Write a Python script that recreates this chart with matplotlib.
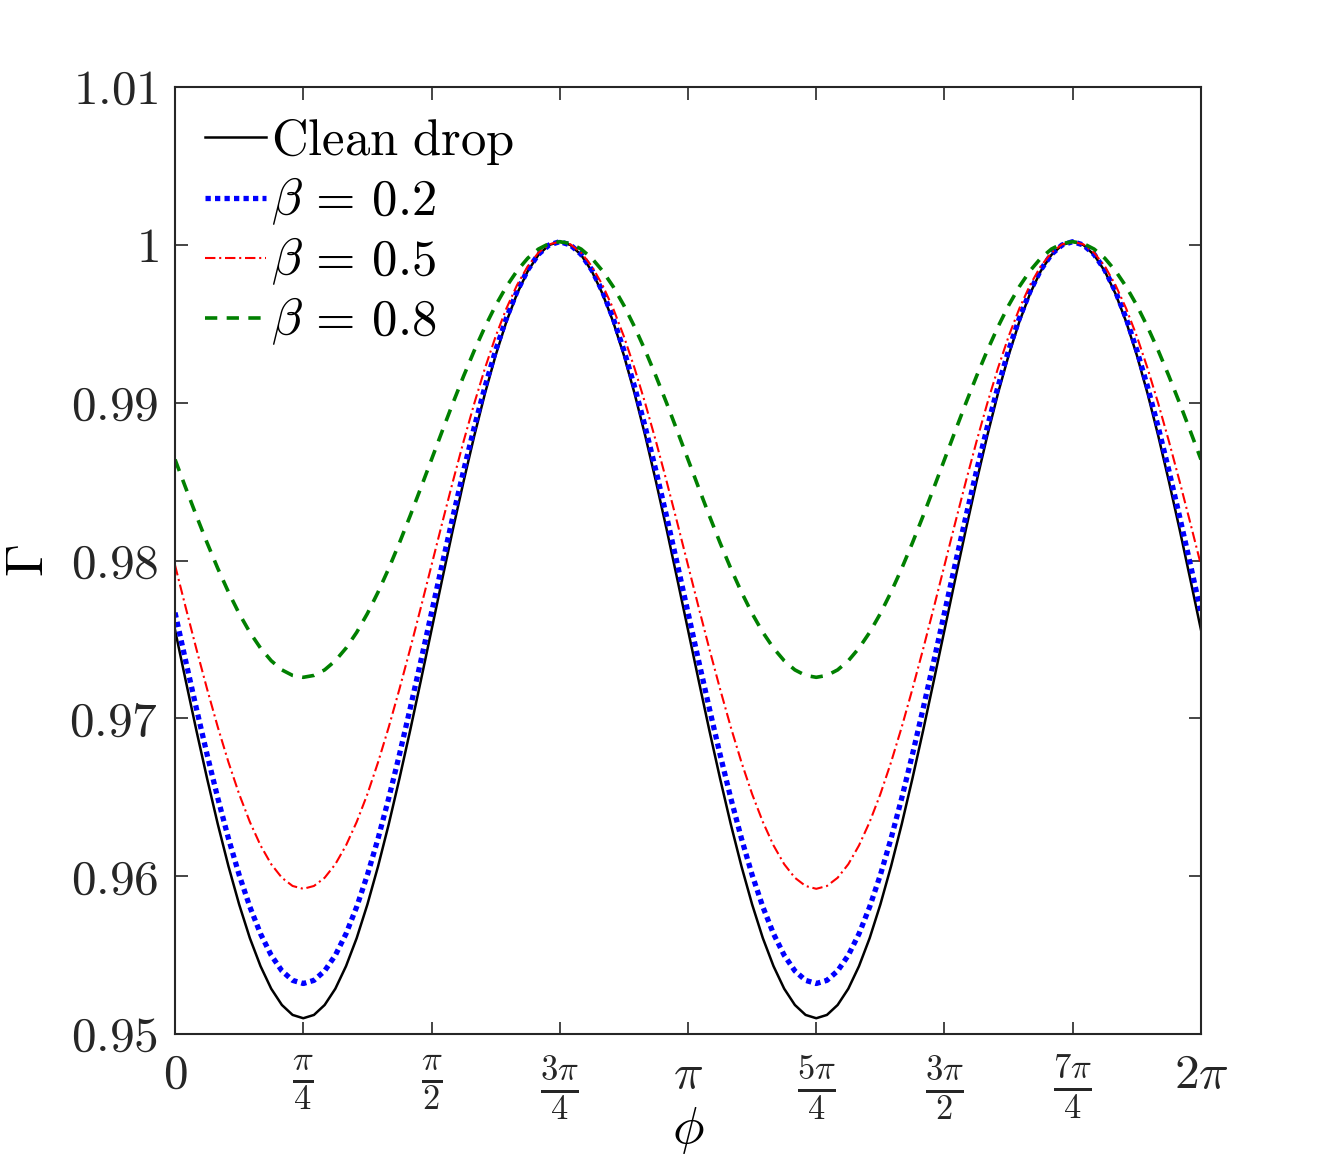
import numpy as np
import matplotlib
matplotlib.use("Agg")
import matplotlib.pyplot as plt

plt.rcParams['mathtext.fontset'] = 'cm'
plt.rcParams['font.family'] = 'serif'
plt.rcParams['font.serif'] = ['cmr10', 'DejaVu Serif']
plt.rcParams['axes.unicode_minus'] = False

# phi sampled every pi/48 from 0 to 2*pi (97 points)
phi = np.linspace(0, 2 * np.pi, 97)

# values
clean = [0.97560, 0.97239, 0.96923, 0.96619, 0.96330, 0.96063, 0.95821, 0.95608, 0.95430,
         0.95287, 0.95184, 0.95121, 0.95100,
         0.95121, 0.95184, 0.95287, 0.95430, 0.95608, 0.95821, 0.96063, 0.96330, 0.96619,
         0.96923, 0.97239, 0.97560,
         0.97881, 0.98197, 0.98501, 0.98790, 0.99058, 0.99300, 0.99512, 0.99690, 0.99833,
         0.99936, 0.99999, 1.00020,
         0.99999, 0.99936, 0.99833, 0.99690, 0.99512, 0.99300, 0.99058, 0.98790, 0.98501,
         0.98197, 0.97881, 0.97560,
         0.97239, 0.96923, 0.96619, 0.96330, 0.96063, 0.95821, 0.95608, 0.95430,
         0.95287, 0.95184, 0.95121, 0.95100,
         0.95121, 0.95184, 0.95287, 0.95430, 0.95608, 0.95821, 0.96063, 0.96330, 0.96619,
         0.96923, 0.97239, 0.97560,
         0.97881, 0.98197, 0.98501, 0.98790, 0.99058, 0.99300, 0.99512, 0.99690, 0.99833,
         0.99936, 0.99999, 1.00020,
         0.99999, 0.99936, 0.99833, 0.99690, 0.99512, 0.99300, 0.99058, 0.98790, 0.98501,
         0.98197, 0.97881, 0.97560]

beta02 = [0.97670, 0.97363, 0.97062, 0.96771, 0.96495, 0.96239, 0.96008, 0.95806, 0.95635,
          0.95499, 0.95400, 0.95340, 0.95320,
          0.95340, 0.95400, 0.95499, 0.95635, 0.95806, 0.96008, 0.96239, 0.96495, 0.96771,
          0.97062, 0.97363, 0.97670,
          0.97977, 0.98278, 0.98569, 0.98845, 0.99101, 0.99332, 0.99534, 0.99705, 0.99841,
          0.99940, 0.99999, 1.00020,
          0.99999, 0.99940, 0.99841, 0.99705, 0.99534, 0.99332, 0.99101, 0.98845, 0.98569,
          0.98278, 0.97977, 0.97670,
          0.97363, 0.97062, 0.96771, 0.96495, 0.96239, 0.96008, 0.95806, 0.95635,
          0.95499, 0.95400, 0.95340, 0.95320,
          0.95340, 0.95400, 0.95499, 0.95635, 0.95806, 0.96008, 0.96239, 0.96495, 0.96771,
          0.97062, 0.97363, 0.97670,
          0.97977, 0.98278, 0.98569, 0.98845, 0.99101, 0.99332, 0.99534, 0.99705, 0.99841,
          0.99940, 0.99999, 1.00020,
          0.99999, 0.99940, 0.99841, 0.99705, 0.99534, 0.99332, 0.99101, 0.98845, 0.98569,
          0.98278, 0.97977, 0.97670]

beta05 = [0.97970, 0.97702, 0.97439, 0.97186, 0.96945, 0.96722, 0.96520, 0.96344, 0.96195,
          0.96076, 0.95990, 0.95938, 0.95920,
          0.95938, 0.95990, 0.96076, 0.96195, 0.96344, 0.96520, 0.96722, 0.96945, 0.97186,
          0.97439, 0.97702, 0.97970,
          0.98238, 0.98501, 0.98755, 0.98995, 0.99218, 0.99420, 0.99596, 0.99745, 0.99864,
          0.99950, 1.00003, 1.00020,
          1.00003, 0.99950, 0.99864, 0.99745, 0.99596, 0.99420, 0.99218, 0.98995, 0.98755,
          0.98501, 0.98238, 0.97970,
          0.97702, 0.97439, 0.97186, 0.96945, 0.96722, 0.96520, 0.96344, 0.96195,
          0.96076, 0.95990, 0.95938, 0.95920,
          0.95938, 0.95990, 0.96076, 0.96195, 0.96344, 0.96520, 0.96722, 0.96945, 0.97186,
          0.97439, 0.97702, 0.97970,
          0.98238, 0.98501, 0.98755, 0.98995, 0.99218, 0.99420, 0.99596, 0.99745, 0.99864,
          0.99950, 1.00003, 1.00020,
          1.00003, 0.99950, 0.99864, 0.99745, 0.99596, 0.99420, 0.99218, 0.98995, 0.98755,
          0.98501, 0.98238, 0.97970]

beta08 = [0.98640, 0.98460, 0.98283, 0.98112, 0.97950, 0.97800, 0.97664, 0.97545, 0.97445,
          0.97365, 0.97307, 0.97272, 0.97260,
          0.97272, 0.97307, 0.97365, 0.97445, 0.97545, 0.97664, 0.97800, 0.97950, 0.98112,
          0.98283, 0.98460, 0.98640,
          0.98820, 0.98997, 0.99168, 0.99330, 0.99480, 0.99616, 0.99735, 0.99835, 0.99915,
          0.99973, 1.00008, 1.00020,
          1.00008, 0.99973, 0.99915, 0.99835, 0.99735, 0.99616, 0.99480, 0.99330, 0.99168,
          0.98997, 0.98820, 0.98640,
          0.98460, 0.98283, 0.98112, 0.97950, 0.97800, 0.97664, 0.97545, 0.97445,
          0.97365, 0.97307, 0.97272, 0.97260,
          0.97272, 0.97307, 0.97365, 0.97445, 0.97545, 0.97664, 0.97800, 0.97950, 0.98112,
          0.98283, 0.98460, 0.98640,
          0.98820, 0.98997, 0.99168, 0.99330, 0.99480, 0.99616, 0.99735, 0.99835, 0.99915,
          0.99973, 1.00008, 1.00020,
          1.00008, 0.99973, 0.99915, 0.99835, 0.99735, 0.99616, 0.99480, 0.99330, 0.99168,
          0.98997, 0.98820, 0.98640]

labels = [r'$\mathrm{Clean\ drop}$', r'$\beta\,=\,0.2$', r'$\beta\,=\,0.5$', r'$\beta\,=\,0.8$']

xticks = np.arange(9) * np.pi / 4
xticklabels = [r'$0$', r'$\frac{\pi}{4}$', r'$\frac{\pi}{2}$', r'$\frac{3\pi}{4}$', r'$\pi$',
               r'$\frac{5\pi}{4}$', r'$\frac{3\pi}{2}$', r'$\frac{7\pi}{4}$', r'$2\pi$']
yticks = [0.95, 0.96, 0.97, 0.98, 0.99, 1.0, 1.01]
yticklabels = [r'$0.95$', r'$0.96$', r'$0.97$', r'$0.98$', r'$0.99$', r'$1$', r'$1.01$']

fig = plt.figure(figsize=(13.3, 11.63), dpi=100)
ax = fig.add_axes([0.1316, 0.1109, 0.9030 - 0.1316, 0.9252 - 0.1109])

ax.plot(phi, clean, color='k', lw=1.8, label=labels[0])
ax.plot(phi, beta02, color=(0, 0, 1), lw=3.8, dashes=(1, 0.8), label=labels[1])
ax.plot(phi, beta05, color=(1, 0, 0), lw=1.5, dashes=(5, 1.8, 1, 1.8), label=labels[2])
ax.plot(phi, beta08, color=(0, 0.5, 0), lw=2.6, dashes=(3.4, 2.6), label=labels[3])

ax.set_xlim(0, 2 * np.pi)
ax.set_ylim(0.95, 1.01)
ax.set_xticks(xticks)
ax.set_xticklabels(xticklabels, fontsize=35.5)
ax.set_yticks(yticks)
ax.set_yticklabels(yticklabels, fontsize=35.5)
ax.tick_params(direction='in', length=9, width=1.2, top=True, right=True,
               colors='#262626')
ax.tick_params(axis='x', pad=14)
ax.tick_params(axis='y', pad=12)
for s in ax.spines.values():
    s.set_linewidth(1.5)
    s.set_color('#262626')

ax.set_xlabel(r'$\phi$', fontsize=38, labelpad=-14)
ax.set_ylabel(r'$\Gamma$', fontsize=38, labelpad=12)

ax.legend(loc='upper left', frameon=False, fontsize=36.5, handlelength=1.2,
          handletextpad=0.1, labelspacing=0.17, borderaxespad=0.13, borderpad=0.46)

fig.savefig('out.png', dpi=100)
